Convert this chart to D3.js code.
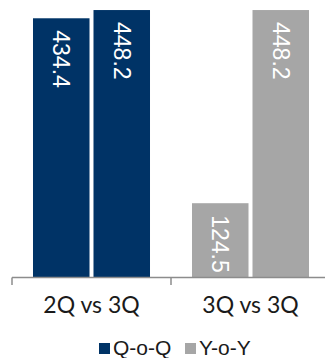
<!DOCTYPE html>
<html>
<head>
<meta charset="utf-8">
<script src="https://cdn.jsdelivr.net/npm/d3@7/dist/d3.min.js"></script>
<style>
  html, body { margin: 0; padding: 0; background: #fff; }
  svg { display: block; }
</style>
</head>
<body>
<svg id="chart" width="325" height="358"></svg>
<script>
// Comparison groups along the x axis
const categories = ["2Q vs 3Q", "3Q vs 3Q"];
// Series shown in the legend; each group is drawn in one series colour
const seriesNames = ["Q-o-Q", "Y-o-Y"];
// Bar values for each group (earlier period, later period)
const qoqValues = [434.4, 448.2];
const yoyValues = [124.5, 448.2];

const colors = ["#003366", "#A6A6A6"];
const groupValues = [qoqValues, yoyValues];

const svg = d3.select("#chart");

const baseY = 277.5;
const x0 = d3.scaleBand().domain(categories).range([12, 330]).padding(0);
const x1 = d3.scaleBand().domain([0, 1]).range([0, x0.bandwidth()])
  .paddingInner(0.066).paddingOuter(0.347);
const y = d3.scaleLinear().domain([0, 460]).range([baseY, 3]);

const groups = svg.selectAll("g.group")
  .data(categories)
  .join("g")
  .attr("class", "group")
  .attr("transform", d => `translate(${x0(d)},0)`);

groups.each(function(cat, gi) {
  const g = d3.select(this);
  const vals = groupValues[gi];
  g.selectAll("rect")
    .data(vals)
    .join("rect")
    .attr("x", (d, i) => x1(i))
    .attr("width", x1.bandwidth())
    .attr("y", d => y(d))
    .attr("height", d => y(0) - y(d))
    .attr("fill", colors[gi]);

  // Value labels, rotated to read top-to-bottom inside the bar end
  g.selectAll("text.value")
    .data(vals)
    .join("text")
    .attr("class", "value")
    .attr("transform", (d, i) => `translate(${x1(i) + x1.bandwidth() / 2},${y(d) + 12}) rotate(90)`)
    .attr("text-anchor", "start")
    .attr("dominant-baseline", "central")
    .attr("font-family", "'Liberation Sans', Arial, sans-serif")
    .attr("font-size", 23)
    .attr("fill", "#fff")
    .text(d => d.toFixed(1));
});

// Category axis with tick marks between groups
const axis = svg.append("g").attr("class", "x-axis");
axis.append("line")
  .attr("x1", x0.range()[0]).attr("x2", x0.range()[1])
  .attr("y1", baseY).attr("y2", baseY)
  .attr("stroke", "#8C8C8C").attr("stroke-width", 1.5);
const tickXs = categories.map(c => x0(c)).concat([x0.range()[1]]);
axis.selectAll("line.tick")
  .data(tickXs)
  .join("line")
  .attr("class", "tick")
  .attr("x1", d => d).attr("x2", d => d)
  .attr("y1", baseY).attr("y2", 285)
  .attr("stroke", "#8C8C8C").attr("stroke-width", 1.5);
axis.selectAll("text")
  .data(categories)
  .join("text")
  .attr("x", d => x0(d) + x0.bandwidth() / 2)
  .attr("y", 313)
  .attr("text-anchor", "middle")
  .attr("font-family", "Lato, 'Open Sans', sans-serif")
  .attr("font-size", 23)
  .attr("fill", "#1a1a1a")
  .text(d => d);

// Legend
const legendItems = [
  { name: seriesNames[0], color: colors[0], x: 99 },
  { name: seriesNames[1], color: colors[1], x: 185 }
];
const legend = svg.append("g").attr("class", "legend");
const li = legend.selectAll("g").data(legendItems).join("g")
  .attr("transform", d => `translate(${d.x},343)`);
li.append("rect").attr("width", 11).attr("height", 11).attr("fill", d => d.color);
li.append("text")
  .attr("x", 14).attr("y", 11.5)
  .attr("font-family", "'Liberation Sans', Arial, sans-serif")
  .attr("font-size", 21)
  .attr("fill", "#1a1a1a")
  .text(d => d.name);
</script>
</body>
</html>
